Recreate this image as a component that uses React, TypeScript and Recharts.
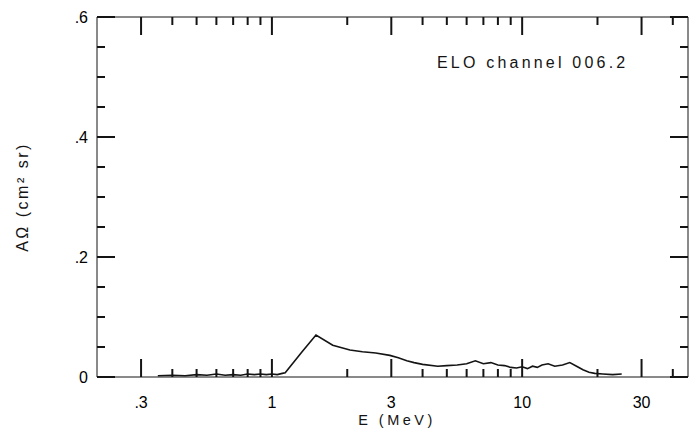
import React from 'react';
import { LineChart, Line, XAxis, YAxis } from 'recharts';

// energies (MeV), with the response
const energy = [
  0.35, 0.4, 0.45, 0.5, 0.55, 0.6, 0.65, 0.7, 0.75, 0.8, 0.85, 0.9, 0.95, 1.0, 1.05, 1.1, 1.13,
  1.32, 1.5, 1.75, 2.05, 2.3, 2.6, 2.96, 3.2, 3.46, 3.7, 4.0, 4.6, 5.0, 5.5, 6.0, 6.5, 7.0, 7.5,
  8.0, 8.5, 9.0, 9.5, 10, 10.5, 11, 11.5, 12, 12.7, 13.5, 14.5, 15.5, 16.5, 17.5, 18.5, 19.5,
  21, 23, 25,
];
const response = [
  0.002, 0.003, 0.002, 0.004, 0.003, 0.005, 0.003, 0.004, 0.003, 0.005, 0.004, 0.005, 0.004, 0.005, 0.004, 0.006, 0.007,
  0.042, 0.07, 0.053, 0.045, 0.042, 0.04, 0.036, 0.032, 0.027, 0.024, 0.021, 0.018, 0.019, 0.02, 0.022, 0.027, 0.022, 0.024,
  0.02, 0.019, 0.016, 0.015, 0.017, 0.014, 0.018, 0.016, 0.02, 0.022, 0.018, 0.02, 0.024, 0.018, 0.012, 0.008, 0.006,
  0.005, 0.004, 0.005,
];

const xTicks = [0.3, 0.4, 0.5, 0.6, 0.7, 0.8, 0.9, 1, 2, 3, 4, 5, 6, 7, 8, 9, 10, 20, 30, 40];
const xLabels: Record<string, string> = { '0.3': '.3', '1': '1', '3': '3', '10': '10', '30': '30' };
const yTicks = [0, 0.05, 0.1, 0.15, 0.2, 0.25, 0.3, 0.35, 0.4, 0.45, 0.5, 0.55, 0.6];
const yLabels: Record<string, string> = { '0': '0', '0.2': '.2', '0.4': '.4', '0.6': '.6' };

const data = energy.map((e, i) => ({ e, v: response[i] }));

const INK = '#141414';
const key = (v: number) => String(+Number(v).toFixed(2));

const BottomTick = (props: any) => {
  const { x, y, payload } = props;
  const label = xLabels[key(payload.value)];
  return (
    <g>
      <line x1={x} y1={y} x2={x} y2={y - (label ? 18 : 8)} stroke={INK} strokeWidth={2} />
      {label && <text x={x} y={y + 31} textAnchor="middle" fontSize={16}>{label}</text>}
    </g>
  );
};
const TopTick = (props: any) => {
  const { x, y, payload } = props;
  const major = !!xLabels[key(payload.value)];
  return <line x1={x} y1={y} x2={x} y2={y + (major ? 18 : 8)} stroke={INK} strokeWidth={2} />;
};
const LeftTick = (props: any) => {
  const { x, y, payload } = props;
  const label = yLabels[key(payload.value)];
  return (
    <g>
      <line x1={x} y1={y} x2={x + (label ? 18 : 8)} y2={y} stroke={INK} strokeWidth={2} />
      {label && <text x={x - 9} y={y + 6} textAnchor="end" fontSize={16}>{label}</text>}
    </g>
  );
};
const RightTick = (props: any) => {
  const { x, y, payload } = props;
  const major = !!yLabels[key(payload.value)];
  return <line x1={x} y1={y} x2={x - (major ? 18 : 8)} y2={y} stroke={INK} strokeWidth={2} />;
};

const textStyle: React.CSSProperties = {
  position: 'absolute',
  whiteSpace: 'nowrap',
  lineHeight: 1,
  color: INK,
};

export default function App() {
  return (
    <div style={{ position: 'absolute', left: 0, top: 0, fontFamily: '"Liberation Sans", Arial, sans-serif' }}>
      <LineChart width={692} height={438} data={data} margin={{ top: 16, right: 3, bottom: 16, left: 42 }}>
        <XAxis xAxisId="bottom" dataKey="e" type="number" scale="log" domain={[0.2, 46]} allowDataOverflow ticks={xTicks} interval={0} tickLine={false} tickSize={0} tickMargin={0} height={45} axisLine={{ stroke: INK }} tick={<BottomTick />} />
        <XAxis xAxisId="top" orientation="top" dataKey="e" type="number" scale="log" domain={[0.2, 46]} allowDataOverflow ticks={xTicks} interval={0} tickLine={false} tickSize={0} tickMargin={0} height={1} axisLine={{ stroke: INK }} tick={<TopTick />} />
        <YAxis yAxisId="left" type="number" domain={[0, 0.6]} ticks={yTicks} interval={0} tickLine={false} tickSize={0} tickMargin={0} width={55} axisLine={{ stroke: INK }} tick={<LeftTick />} />
        <YAxis yAxisId="right" orientation="right" type="number" domain={[0, 0.6]} ticks={yTicks} interval={0} tickLine={false} tickSize={0} tickMargin={0} width={1} axisLine={{ stroke: INK }} tick={<RightTick />} />
        <Line xAxisId="bottom" yAxisId="left" dataKey="v" stroke={INK} strokeWidth={1.6} dot={false} isAnimationActive={false} />
        <Line xAxisId="top" yAxisId="right" dataKey="v" stroke="none" dot={false} isAnimationActive={false} />
      </LineChart>
      <div style={{ ...textStyle, left: 397, top: 413, fontSize: 14.5, letterSpacing: 3.5, transform: 'translateX(-50%)' }}>
        E (MeV)
      </div>
      <div style={{ ...textStyle, left: 437, top: 55, fontSize: 16, letterSpacing: 3.2 }}>
        ELO channel 006.2
      </div>
      <div style={{ ...textStyle, left: 23, top: 197, fontSize: 16, letterSpacing: 2.5, transform: 'translate(-50%, -50%) rotate(-90deg)' }}>
        AΩ (cm² sr)
      </div>
    </div>
  );
}
